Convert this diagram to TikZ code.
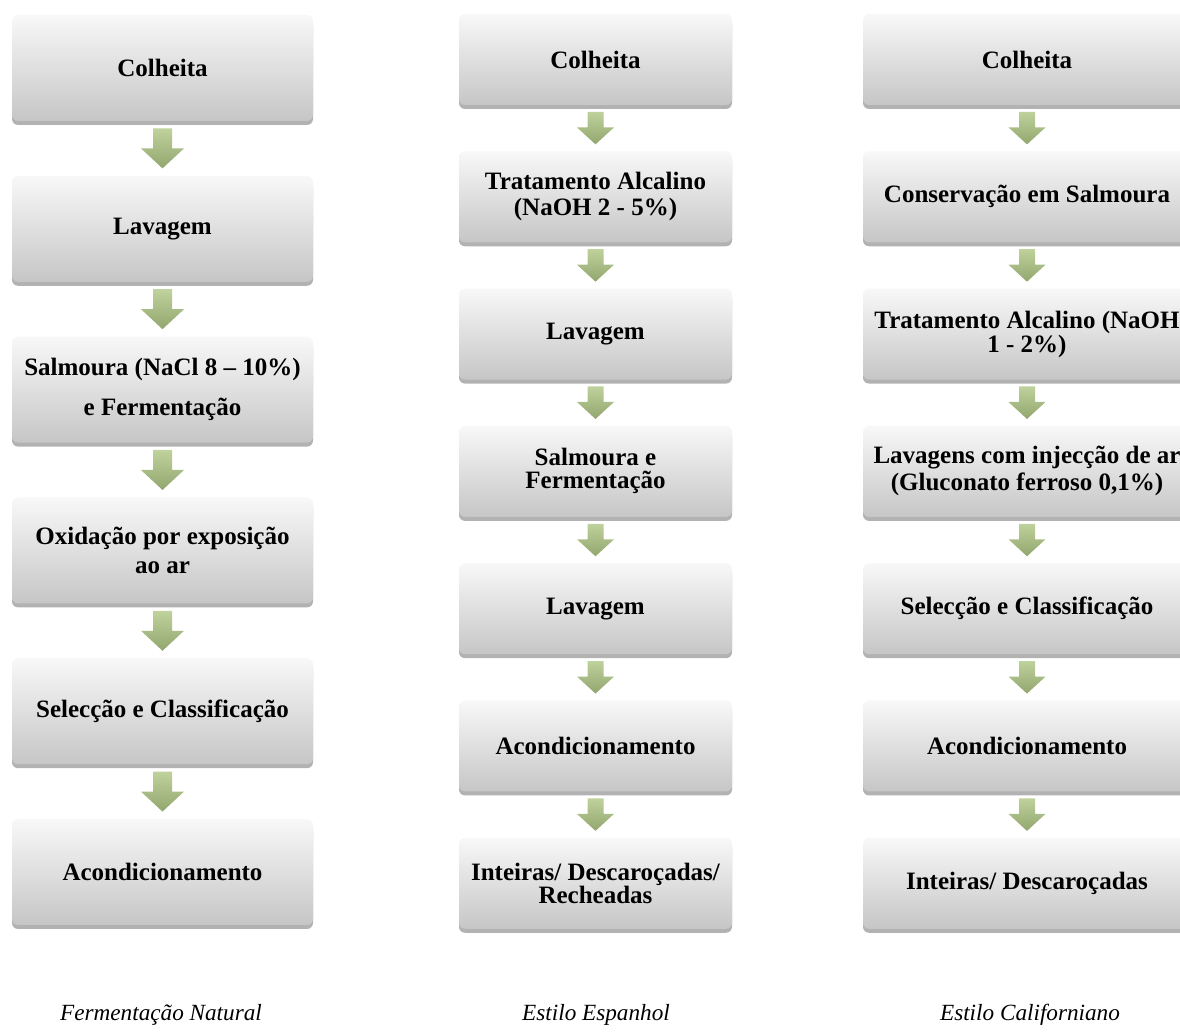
\documentclass[tikz,border=0pt]{standalone}
\usepackage{fontspec}
\setmainfont{Liberation Serif}
\usetikzlibrary{positioning,calc,shadows}
\definecolor{boxtop}{RGB}{248,248,248}
\definecolor{boxmid}{RGB}{234,234,234}
\definecolor{boxbot}{RGB}{198,198,198}
\definecolor{arrtop}{RGB}{200,218,165}
\definecolor{arrbot}{RGB}{146,166,110}

\begin{document}
\begin{tikzpicture}[x=0.5pt,y=-0.5pt,
        stage/.style={rectangle,rounded corners=3pt,top color=boxtop,middle color=boxmid,
            bottom color=boxbot,align=center,inner sep=2pt,
            font=\bfseries\fontsize{12.5}{13}\selectfont,
            drop shadow={shadow xshift=0pt,shadow yshift=-2pt,opacity=0.3,fill=black}},
        stagewide/.style={stage,minimum width=150.5pt,minimum height=53pt},
        stagemid/.style={stage,minimum width=136.5pt,minimum height=45.5pt},
        stagecal/.style={stage,minimum width=164pt,minimum height=45.5pt},
        caption/.style={font=\itshape\fontsize{11.6}{14}\selectfont},
        bigarrow/.style={draw=none,shade,top color=arrtop,bottom color=arrbot,
            to path={($(\tikztostart)+(-9.5,7)$) -- ($(\tikztostart)+(9.5,7)$)
                -- ($(\tikztotarget)+(9.5,-27)$) -- ($(\tikztotarget)+(21.5,-27)$)
                -- ($(\tikztotarget)+(0,-7)$) -- ($(\tikztotarget)+(-21.5,-27)$)
                -- ($(\tikztotarget)+(-9.5,-27)$) -- cycle}},
        smallarrow/.style={draw=none,shade,top color=arrtop,bottom color=arrbot,
            to path={($(\tikztostart)+(-8,6.5)$) -- ($(\tikztostart)+(8,6.5)$)
                -- ($(\tikztotarget)+(8,-23.5)$) -- ($(\tikztotarget)+(18.5,-23.5)$)
                -- ($(\tikztotarget)+(0,-6.5)$) -- ($(\tikztotarget)+(-18.5,-23.5)$)
                -- ($(\tikztotarget)+(-8,-23.5)$) -- cycle}}]
    \useasboundingbox (0,0) rectangle (1180,1036);

    % Fermentacao Natural
    \node [stagewide] (f0) at (162.5,68)        {Colheita};
    \node [stagewide] (f1) [below=27pt of f0]  {Lavagem};
    \node [stagewide] (f2) [below=27pt of f1]  {Salmoura (NaCl 8 – 10\%)\\[7pt] e Fermentação};
    \node [stagewide] (f3) [below=27pt of f2]  {Oxidação por exposição\\[1.5pt] ao ar};
    \node [stagewide] (f4) [below=27pt of f3]  {Selecção e Classificação};
    \node [stagewide] (f5) [below=27pt of f4]  {Acondicionamento};

    % Estilo Espanhol
    \node [stagemid] (e0) at (595.5,59.5)        {Colheita};
    \node [stagemid] (e1) [below=22.75pt of e0] {Tratamento Alcalino\\(NaOH 2 - 5\%)};
    \node [stagemid] (e2) [below=22.75pt of e1] {Lavagem};
    \node [stagemid] (e3) [below=22.75pt of e2] {Salmoura e\\[-1.5pt] Fermentação};
    \node [stagemid] (e4) [below=22.75pt of e3] {Lavagem};
    \node [stagemid] (e5) [below=22.75pt of e4] {Acondicionamento};
    \node [stagemid] (e6) [below=22.75pt of e5] {Inteiras/ Descaroçadas/\\[-1.5pt] Recheadas};

    % Estilo Californiano
    \node [stagecal] (c0) at (1027,59.5)         {Colheita};
    \node [stagecal] (c1) [below=22.75pt of c0] {Conservação em Salmoura};
    \node [stagecal] (c2) [below=22.75pt of c1] {Tratamento Alcalino (NaOH\\[-1pt] 1 - 2\%)};
    \node [stagecal] (c3) [below=22.75pt of c2] {Lavagens com injecção de ar\\[0.5pt] (Gluconato ferroso 0,1\%)};
    \node [stagecal] (c4) [below=22.75pt of c3] {Selecção e Classificação};
    \node [stagecal] (c5) [below=22.75pt of c4] {Acondicionamento};
    \node [stagecal] (c6) [below=22.75pt of c5] {Inteiras/ Descaroçadas};

    \path
    (f0.south) edge [bigarrow] (f1.north)
    (f1.south) edge [bigarrow] (f2.north)
    (f2.south) edge [bigarrow] (f3.north)
    (f3.south) edge [bigarrow] (f4.north)
    (f4.south) edge [bigarrow] (f5.north);

    \path
    (e0.south) edge [smallarrow] (e1.north)
    (e1.south) edge [smallarrow] (e2.north)
    (e2.south) edge [smallarrow] (e3.north)
    (e3.south) edge [smallarrow] (e4.north)
    (e4.south) edge [smallarrow] (e5.north)
    (e5.south) edge [smallarrow] (e6.north);

    \path
    (c0.south) edge [smallarrow] (c1.north)
    (c1.south) edge [smallarrow] (c2.north)
    (c2.south) edge [smallarrow] (c3.north)
    (c3.south) edge [smallarrow] (c4.north)
    (c4.south) edge [smallarrow] (c5.north)
    (c5.south) edge [smallarrow] (c6.north);

    \node [caption] (capf) at (161,1015)  {Fermentação Natural};
    \node [caption] (cape) at (596,1015)  {Estilo Espanhol};
    \node [caption] (capc) at (1030,1015) {Estilo Californiano};
\end{tikzpicture}
\end{document}
